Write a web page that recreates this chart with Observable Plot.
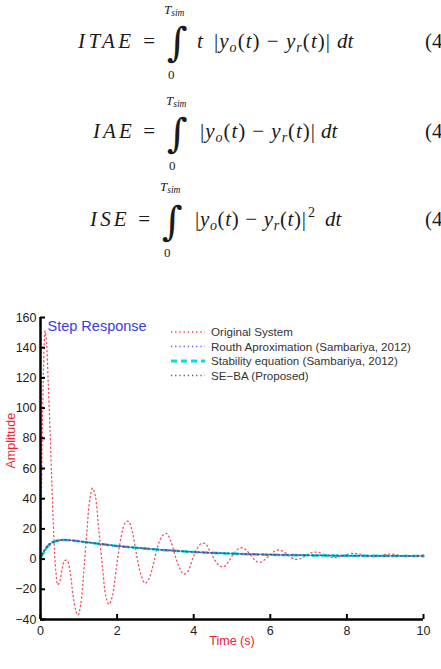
<!DOCTYPE html>
<html><head><meta charset="utf-8">
<script src="https://cdn.jsdelivr.net/npm/d3@7"></script>
<script src="https://cdn.jsdelivr.net/npm/@observablehq/plot@0.6"></script>
<style>
body{margin:0;background:#fff;width:441px;height:669px;overflow:hidden;position:relative;font-family:"Liberation Sans",Arial,sans-serif}
#eq{position:absolute;left:0;top:0}
#chart{position:absolute;left:0;top:300px}
#legend{position:absolute;left:0;top:300px}
.m{font-family:"Liberation Serif","Times New Roman",serif;fill:#1a1a1a}
.i{font-style:italic}
.int{font-family:"DejaVu Serif",serif;fill:#1a1a1a}
</style></head><body>
<svg id="eq" width="441" height="300">
  <!-- ITAE -->
  <text class="m" x="78" y="48" font-size="21" textLength="77" lengthAdjust="spacing"><tspan class="i">ITAE</tspan> =</text>
  <text class="m i" x="164" y="14" font-size="13">T<tspan font-size="9.5" dy="2">sim</tspan></text>
  <text class="int" x="167" y="56" font-size="40">∫</text>
  <text class="m" x="168" y="79" font-size="13">0</text>
  <text class="m i" x="197" y="48" font-size="21">t</text>
  <text class="m" x="214" y="48" font-size="21" textLength="116" lengthAdjust="spacing">|<tspan class="i">y</tspan><tspan class="i" font-size="14" dy="4">o</tspan><tspan dy="-4">(</tspan><tspan class="i">t</tspan>) − <tspan class="i">y</tspan><tspan class="i" font-size="14" dy="4">r</tspan><tspan dy="-4">(</tspan><tspan class="i">t</tspan>)|</text>
  <text class="m i" x="337" y="48" font-size="21">dt</text>
  <text class="m" x="425" y="48" font-size="21">(4</text>
  <!-- IAE -->
  <text class="m" x="93" y="138" font-size="21" textLength="62" lengthAdjust="spacing"><tspan class="i">IAE</tspan> =</text>
  <text class="m i" x="166" y="105" font-size="13">T<tspan font-size="9.5" dy="2">sim</tspan></text>
  <text class="int" x="167" y="147" font-size="40">∫</text>
  <text class="m" x="169" y="170" font-size="13">0</text>
  <text class="m" x="200" y="138" font-size="21" textLength="115" lengthAdjust="spacing">|<tspan class="i">y</tspan><tspan class="i" font-size="14" dy="4">o</tspan><tspan dy="-4">(</tspan><tspan class="i">t</tspan>) − <tspan class="i">y</tspan><tspan class="i" font-size="14" dy="4">r</tspan><tspan dy="-4">(</tspan><tspan class="i">t</tspan>)|</text>
  <text class="m i" x="321" y="138" font-size="21">dt</text>
  <text class="m" x="425" y="138" font-size="21">(4</text>
  <!-- ISE -->
  <text class="m" x="90" y="226" font-size="21" textLength="60" lengthAdjust="spacing"><tspan class="i">ISE</tspan> =</text>
  <text class="m i" x="160" y="191" font-size="13">T<tspan font-size="9.5" dy="2">sim</tspan></text>
  <text class="int" x="162" y="235" font-size="40">∫</text>
  <text class="m" x="164" y="257" font-size="13">0</text>
  <text class="m" x="195" y="226" font-size="21" textLength="111" lengthAdjust="spacing">|<tspan class="i">y</tspan><tspan class="i" font-size="14" dy="4">o</tspan><tspan dy="-4">(</tspan><tspan class="i">t</tspan>) − <tspan class="i">y</tspan><tspan class="i" font-size="14" dy="4">r</tspan><tspan dy="-4">(</tspan><tspan class="i">t</tspan>)|</text>
  <text class="m" x="308" y="217" font-size="14">2</text>
  <text class="m i" x="325" y="226" font-size="21">dt</text>
  <text class="m" x="425" y="226" font-size="21">(4</text>
</svg>
<div id="chart"></div>
<svg id="legend" width="441" height="90"></svg>
<script>
// ---- data ----
const tOriginal = [0,0.04,0.08,0.12,0.16,0.20,0.25,0.30,0.35,0.40,0.45,0.50,0.56,0.63,0.70,0.77,0.85,0.92,0.98,1.05,1.13,1.21,1.29,1.36,1.43,1.52,1.62,1.71,1.79,1.87,1.98,2.10,2.21,2.30,2.39,2.50,2.62,2.73,2.83,2.96,3.08,3.20,3.29,3.40,3.52,3.63,3.74,3.85,3.97,4.09,4.21,4.31,4.43,4.56,4.68,4.79,4.90,5.03,5.15,5.27,5.39,5.52,5.64,5.75,5.87,6.0,6.13,6.25,6.37,6.5,6.63,6.75,6.88,7.0,7.13,7.25,7.4,7.55,7.7,7.85,8.0,8.15,8.3,8.45,8.6,8.75,8.9,9.05,9.2,9.35,9.5,9.65,9.8,10];
const yOriginal = [0,70,128,151,142,118,85,48,14,-8,-17,-15,-7,-1,-1,-8,-24,-34,-37,-30,-8,18,40,47,42,20,-6,-25,-30,-25,-6,14,24,25,19,4,-10,-16,-13,-2,10,16,17,12,2,-6,-10,-8,0,7,10.5,10,5,-1,-4.5,-5,-2,3,6.5,7.5,5.5,1.5,-1.5,-2,0,3,5.5,6,4.5,2,0,0,1.5,3.5,4.5,4.5,3,1.5,1,2,3,3.8,3.5,2.5,1.7,1.8,2.5,3.2,3.2,2.6,2,1.9,2.3,2.8];

const tReduced = [0,0.1,0.2,0.3,0.4,0.6,0.8,1,1.5,2,2.5,3,3.5,4,5,6,7,8,9,10];
const yRouth     = [0,6,9.5,11.2,12.2,12.8,12.5,11.9,10.3,8.8,7.6,6.5,5.6,4.8,3.7,3.0,2.6,2.3,2.2,2.1];
const yStability = [1,5,8.5,10.5,11.8,12.6,12.4,11.8,10.2,8.7,7.5,6.4,5.5,4.7,3.6,2.9,2.5,2.2,2.1,2.0];
const ySeba      = [0.5,5.5,9,10.8,12,12.6,12.4,11.8,10.2,8.7,7.5,6.4,5.5,4.7,3.6,2.9,2.5,2.2,2.1,2.0];

const xTicks = [0,2,4,6,8,10];
const yTicks = [-40,-20,0,20,40,60,80,100,120,140,160];

const seriesLabels = ["Original System","Routh Aproximation (Sambariya, 2012)","Stability equation (Sambariya, 2012)","SE−BA (Proposed)"];
const seriesColors = ["#ee3344","#5a5ae0","#00e0e0","#555566"];
const seriesDash   = ["1.2,3","1.2,3","6,4","1.2,3"];
const seriesWidth  = [1.3,1.5,2.6,1.5];

// ---- build tables ----
const original = tOriginal.map((t,i)=>({t, y:yOriginal[i]}));
const routh = tReduced.map((t,i)=>({t, y:yRouth[i]}));
const stab  = tReduced.map((t,i)=>({t, y:yStability[i]}));
const seba  = tReduced.map((t,i)=>({t, y:ySeba[i]}));

const lineOpts = k => ({x:"t", y:"y", stroke:seriesColors[k], strokeWidth:seriesWidth[k], strokeDasharray:seriesDash[k], curve:"catmull-rom"});

const W = 441, H = 369, mT = 17, mB = 50, mL = 40, mR = 18;
const tickLen = 5;

const chart = Plot.plot({
  width:W, height:H,
  marginTop:mT, marginBottom:mB, marginLeft:mL, marginRight:mR,
  style:{fontFamily:"Liberation Sans, Arial, sans-serif", fontSize:"12px", color:"#222", background:"transparent", overflow:"visible"},
  x:{domain:[0,10]},
  y:{domain:[-40,160]},
  marks:[
    Plot.line(original, {...lineOpts(0), strokeOpacity:0.85}),
    Plot.line(stab, lineOpts(2)),
    Plot.line(routh, lineOpts(1)),
    Plot.line(seba, lineOpts(3)),
    // inward tick marks
    Plot.tickX(xTicks, {x:d=>d, insetTop:(H-mT-mB)-tickLen, stroke:"#000", strokeWidth:2}),
    Plot.tickY(yTicks, {y:d=>d, insetRight:(W-mL-mR)-tickLen, stroke:"#000", strokeWidth:2}),
    // tick labels
    Plot.axisX({ticks:xTicks, tickSize:0, tickPadding:7, label:null, fontSize:12.5}),
    Plot.axisY({ticks:yTicks, tickSize:0, tickPadding:4, label:null, fontSize:12.5}),
    Plot.ruleX([0], {stroke:"#000", strokeWidth:2.5}),
    Plot.ruleY([-40], {stroke:"#000", strokeWidth:2.5}),
    Plot.text(["Step Response"], {text:d=>d, frameAnchor:"top-left", dx:7, dy:9, textAnchor:"start", lineAnchor:"middle", fill:"#3b3be0", fontSize:14.5}),
    Plot.text(["Amplitude"], {text:d=>d, frameAnchor:"left", dx:-30, rotate:-90, fill:"#e8232e", fontSize:12.5}),
    Plot.text(["Time (s)"], {text:d=>d, frameAnchor:"bottom", dy:25, fill:"#e8232e", fontSize:12.5})
  ]
});
document.getElementById("chart").appendChild(chart);

// ---- legend ----
const lg = d3.select("#legend");
const rowY = [32, 46.5, 61, 75.5];
seriesLabels.forEach((lab,k)=>{
  lg.append("line").attr("x1",171).attr("x2",205).attr("y1",rowY[k]).attr("y2",rowY[k])
    .attr("stroke",seriesColors[k]).attr("stroke-width",seriesWidth[k]+0.2).attr("stroke-dasharray",seriesDash[k]);
  lg.append("text").attr("x",211).attr("y",rowY[k]).attr("dy","0.35em")
    .attr("font-size",11.6).attr("fill","#333").text(lab);
});
</script>
</body></html>
